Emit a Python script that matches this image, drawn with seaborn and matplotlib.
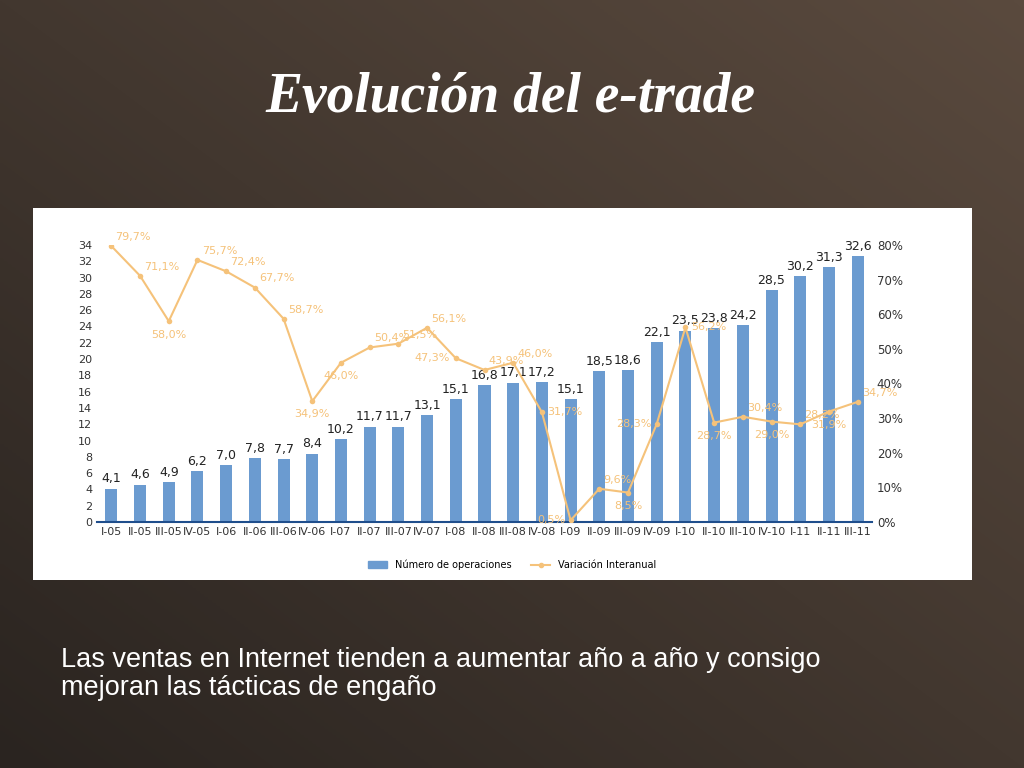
import matplotlib
matplotlib.use("Agg")
import matplotlib.pyplot as plt
import seaborn as sns
import numpy as np
import pandas as pd
from matplotlib.patches import Rectangle, Patch
from matplotlib.lines import Line2D

quarters = ["I-05","II-05","III-05","IV-05","I-06","II-06","III-06","IV-06","I-07","II-07","III-07","IV-07",
            "I-08","II-08","III-08","IV-08","I-09","II-09","III-09","IV-09","I-10","II-10","III-10","IV-10",
            "I-11","II-11","III-11"]
operaciones = [4.1,4.6,4.9,6.2,7.0,7.8,7.7,8.4,10.2,11.7,11.7,13.1,15.1,16.8,17.1,17.2,15.1,18.5,18.6,22.1,
               23.5,23.8,24.2,28.5,30.2,31.3,32.6]
variacion = [79.7,71.1,58.0,75.7,72.4,67.7,58.7,34.9,46.0,50.4,51.5,56.1,47.3,43.9,46.0,31.7,0.5,9.6,8.5,28.3,
             56.2,28.7,30.4,29.0,28.2,31.9,34.7]

df = pd.DataFrame({"q": quarters, "ops": operaciones, "var": variacion})

fig = plt.figure(figsize=(10.24, 7.68), dpi=100)
bg = fig.add_axes([0, 0, 1, 1])
X, Y = np.meshgrid(np.linspace(0, 1, 256), np.linspace(0, 1, 256))
G = 0.5 * X + 0.5 * (1 - Y)
bg.imshow(G, cmap=matplotlib.colors.LinearSegmentedColormap.from_list("b", ["#2a2420", "#5a4a3e"]),
          aspect="auto", extent=[0, 1, 0, 1])
bg.axis("off")

fig.text(0.498, 0.872, "Evolución del e-trade", ha="center", va="center", fontsize=40,
         fontfamily="Liberation Serif", fontstyle="italic", fontweight="bold", color="white")
fig.text(0.06, 0.122, "Las ventas en Internet tienden a aumentar año a año y consigo\nmejoran las tácticas de engaño",
         ha="left", va="center", fontsize=19.5, color="white", fontfamily="Liberation Sans", linespacing=1.1)

fig.patches.append(Rectangle((33/1024, 1-580/768), (972-33)/1024, (580-208)/768,
                             transform=fig.transFigure, facecolor="white", edgecolor="none", zorder=1))

ax = fig.add_axes([97/1024, 1-522/768, (872-97)/1024, (522-245)/768], zorder=2)
ax.set_facecolor("none")
sns.barplot(data=df, x="q", y="ops", color="#6b9bd0", width=0.42, ax=ax, saturation=1)
ax.set_ylim(0, 34)
ax.set_yticks(range(0, 35, 2))
ax.set_xlim(-0.5, len(quarters) - 0.5)
ax.set_xlabel(""); ax.set_ylabel("")
ax.tick_params(axis="both", labelsize=8, length=0, colors="#333333")
for s in ["top", "right", "left"]:
    ax.spines[s].set_visible(False)
ax.spines["bottom"].set_color("#1f4e8c")
ax.spines["bottom"].set_linewidth(1.5)
for i, v in enumerate(operaciones):
    ax.text(i, v + 0.4, f"{v:.1f}".replace(".", ","), ha="center", va="bottom", fontsize=9, color="#222222")

ax2 = ax.twinx()
sns.lineplot(x=np.arange(len(quarters)), y=df["var"], ax=ax2, color="#f5c27a", marker="o",
             markersize=4, markeredgewidth=0, linewidth=1.5)
ax2.set_ylim(0, 80)
ax2.set_yticks(range(0, 81, 10))
ax2.set_yticklabels([f"{t}%" for t in range(0, 81, 10)])
ax2.set_ylabel("")
ax2.tick_params(axis="y", labelsize=8.5, length=0, colors="#333333")
for s in ["top", "left", "bottom", "right"]:
    ax2.spines[s].set_visible(False)

# label placement: a=above-right, b=below, r=right, l=left
place = "aabaaaabbaaalaarlablrbababa"
offs = {"a": ((3, 3), "left", "bottom"), "b": ((0, -6), "center", "top"),
        "r": ((4, 0), "left", "center"), "l": ((-4, 0), "right", "center")}
for i, v in enumerate(variacion):
    (dx, dy), ha, va = offs[place[i]]
    ax2.annotate(f"{v:.1f}%".replace(".", ","), (i, v), xytext=(dx, dy), textcoords="offset points",
                 fontsize=8, color="#f5c27a", ha=ha, va=va)

handles = [Patch(color="#6b9bd0", label="Número de operaciones"),
           Line2D([], [], color="#f5c27a", marker="o", markersize=3, label="Variación Interanual")]
fig.legend(handles=handles, loc="center", bbox_to_anchor=(0.5, 1-565/768), ncol=2, frameon=False,
           fontsize=7, handlelength=2)

fig.savefig("out.png", dpi=100)
